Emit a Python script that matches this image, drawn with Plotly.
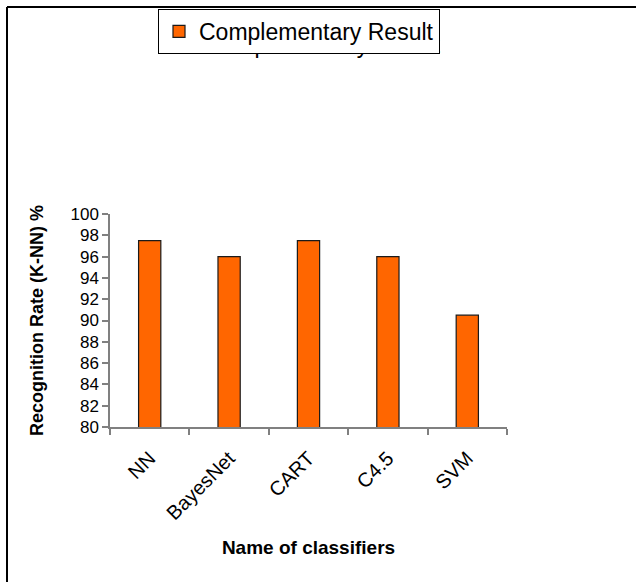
import plotly.graph_objects as go

# Recognition rate of each classifier with the complementary result
classifiers = ["NN", "BayesNet", "CART", "C4.5", "SVM"]
recognition_rate = [97.5, 96.0, 97.5, 96.0, 90.5]
series_name = "Complementary Result"
y_ticks = list(range(80, 101, 2))

W, H = 636, 582
L, R, T, B = 110, 129, 214, 155

fig = go.Figure()
fig.add_trace(go.Bar(
    x=classifiers,
    y=recognition_rate,
    name=series_name,
    marker=dict(color="#FF6600", line=dict(color="#1a1a1a", width=1.2)),
    width=0.28,
    showlegend=True,
))

font = "Liberation Sans, Arial, sans-serif"

# pixel -> paper coordinate helpers
px = lambda v: (v - L) / (W - L - R)
py = lambda v: (H - B - v) / (H - T - B)

shapes = [
    # page frame: top and left rules
    dict(type="line", xref="paper", yref="paper", x0=px(7), x1=px(W + 5), y0=py(7), y1=py(7),
         line=dict(color="#000000", width=2)),
    dict(type="line", xref="paper", yref="paper", x0=px(7), x1=px(7), y0=py(7), y1=py(H + 5),
         line=dict(color="#000000", width=2)),
    # chart title, sitting underneath the legend box
    dict(type="rect", xref="paper", yref="paper", x0=px(200), x1=px(446), y0=py(57), y1=py(29),
         line=dict(width=0), fillcolor="rgba(0,0,0,0)",
         label=dict(text=series_name, textposition="middle center",
                    font=dict(size=23, family=font, color="#000000"))),
]

fig.update_layout(
    width=W, height=H,
    margin=dict(l=L, r=R, t=T, b=B, autoexpand=False),
    paper_bgcolor="white", plot_bgcolor="white",
    font=dict(family=font, color="#000000"),
    showlegend=True,
    legend=dict(x=px(158), y=py(9), xanchor="left", yanchor="top",
                bgcolor="white", bordercolor="#000000", borderwidth=1,
                font=dict(size=23, family=font, color="#000000"),
                itemclick=False),
    shapes=shapes,
    xaxis=dict(
        showline=True, linecolor="#808080", linewidth=1.5,
        ticks="outside", tickson="boundaries", ticklen=6, tickcolor="#808080", tickwidth=1.5,
        tickangle=-45, tickfont=dict(size=20, family=font), ticklabelstandoff=10,
        title=dict(text="<b>Name of classifiers</b>", font=dict(size=19, family=font), standoff=18),
        showgrid=False, zeroline=False, automargin=False,
    ),
    yaxis=dict(
        range=[80, 100], tickvals=y_ticks, ticktext=[str(v) for v in y_ticks],
        showline=True, linecolor="#808080", linewidth=1.5,
        ticks="outside", ticklen=6, tickcolor="#808080", tickwidth=1.5,
        tickfont=dict(size=17, family=font),
        title=dict(text="<b>Recognition Rate (K-NN) %</b>", font=dict(size=18, family=font), standoff=22),
        showgrid=False, zeroline=False, automargin=False,
    ),
    bargap=0.72,
)

fig.write_html("out.html")
